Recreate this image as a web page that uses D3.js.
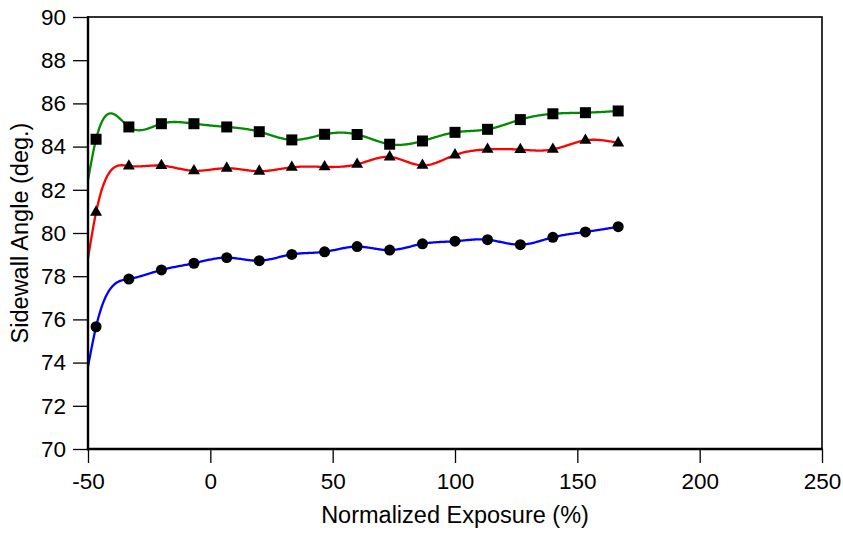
<!DOCTYPE html>
<html>
<head>
<meta charset="utf-8">
<script src="https://cdn.jsdelivr.net/npm/d3@7/dist/d3.min.js"></script>
<style>
  html, body { margin: 0; padding: 0; background: #fff; }
  svg { display: block; }
  text { font-family: "Liberation Sans", Arial, sans-serif; fill: #000; }
</style>
</head>
<body>
<script>
// ---- data ----
const exposure = [-46.7, -33.3, -20, -6.7, 6.7, 20, 33.3, 46.7, 60, 73.3, 86.7, 100, 113.3, 126.7, 140, 153.3, 166.7];
const squareSeries = [84.34, 84.91, 85.06, 85.06, 84.91, 84.69, 84.31, 84.57, 84.56, 84.11, 84.26, 84.66, 84.80, 85.25, 85.52, 85.57, 85.65];
const triangleSeries = [80.96, 83.10, 83.12, 82.88, 83.00, 82.86, 83.04, 83.06, 83.18, 83.52, 83.13, 83.61, 83.87, 83.86, 83.87, 84.29, 84.17];
const circleSeries = [75.66, 77.87, 78.29, 78.60, 78.86, 78.72, 79.01, 79.13, 79.37, 79.21, 79.50, 79.62, 79.69, 79.46, 79.80, 80.05, 80.29];
// fitted curve values at the left edge (x = -50), no marker there
const curveStartX = -50;
const curveStart = { square: 82.45, triangle: 78.83, circle: 73.81 };
const xTicks = [-50, 0, 50, 100, 150, 200, 250];
const yTicks = [70, 72, 74, 76, 78, 80, 82, 84, 86, 88, 90];

const W = 843, H = 533;
const margin = { left: 88, right: 21, top: 17, bottom: 84 };

const svg = d3.select("body").append("svg").attr("width", W).attr("height", H);

const x = d3.scaleLinear().domain([-50, 250]).range([margin.left, W - margin.right]);
const y = d3.scaleLinear().domain([70, 90]).range([H - margin.bottom, margin.top]);

// natural cubic spline y(x), sampled densely
function naturalSpline(xs, ys, stepsPerSeg) {
  const n = xs.length;
  const h = [];
  for (let i = 0; i < n - 1; i++) h.push(xs[i + 1] - xs[i]);
  const a = new Array(n).fill(0), b = new Array(n).fill(1), c = new Array(n).fill(0), r = new Array(n).fill(0);
  for (let i = 1; i < n - 1; i++) {
    a[i] = h[i - 1];
    b[i] = 2 * (h[i - 1] + h[i]);
    c[i] = h[i];
    r[i] = 6 * ((ys[i + 1] - ys[i]) / h[i] - (ys[i] - ys[i - 1]) / h[i - 1]);
  }
  // Thomas algorithm
  const cp = new Array(n).fill(0), rp = new Array(n).fill(0);
  cp[0] = c[0] / b[0]; rp[0] = r[0] / b[0];
  for (let i = 1; i < n; i++) {
    const m = b[i] - a[i] * cp[i - 1];
    cp[i] = c[i] / m;
    rp[i] = (r[i] - a[i] * rp[i - 1]) / m;
  }
  const M = new Array(n).fill(0);
  M[n - 1] = rp[n - 1];
  for (let i = n - 2; i >= 0; i--) M[i] = rp[i] - cp[i] * M[i + 1];
  const out = [];
  for (let i = 0; i < n - 1; i++) {
    const hi = h[i];
    for (let k = 0; k < stepsPerSeg; k++) {
      const t = xs[i] + hi * k / stepsPerSeg;
      const A = xs[i + 1] - t, B = t - xs[i];
      const v = M[i] * A * A * A / (6 * hi) + M[i + 1] * B * B * B / (6 * hi)
        + (ys[i] / hi - M[i] * hi / 6) * A + (ys[i + 1] / hi - M[i + 1] * hi / 6) * B;
      out.push([t, v]);
    }
  }
  out.push([xs[n - 1], ys[n - 1]]);
  return out;
}

const series = [
  { key: "square", values: squareSeries, color: "#008c00", shape: d3.symbolSquare, size: 121 },
  { key: "triangle", values: triangleSeries, color: "#ff0000", shape: d3.symbolTriangle, size: 62 },
  { key: "circle", values: circleSeries, color: "#0000ff", shape: d3.symbolCircle, size: 95 }
];

svg.append("defs").append("clipPath").attr("id", "plotclip")
  .append("rect")
  .attr("x", x(-50)).attr("y", y(90))
  .attr("width", x(250) - x(-50)).attr("height", y(70) - y(90));

const line = d3.line().x(d => x(d[0])).y(d => y(d[1]));

const gLines = svg.append("g").attr("clip-path", "url(#plotclip)");
series.forEach(s => {
  const xs = [curveStartX].concat(exposure);
  const ys = [curveStart[s.key]].concat(s.values);
  gLines.append("path")
    .attr("d", line(naturalSpline(xs, ys, 30)))
    .attr("fill", "none")
    .attr("stroke", s.color)
    .attr("stroke-width", 2.3);
});

series.forEach(s => {
  const sym = d3.symbol().type(s.shape).size(s.size);
  svg.append("g").selectAll("path")
    .data(exposure.map((e, i) => [e, s.values[i]]))
    .join("path")
    .attr("d", sym)
    .attr("transform", d => `translate(${x(d[0])},${y(d[1])})`)
    .attr("fill", "#000");
});

// axes
const xAxis = d3.axisBottom(x).tickValues(xTicks).tickSize(14).tickPadding(10).tickFormat(d => String(d));
const yAxis = d3.axisLeft(y).tickValues(yTicks).tickSize(15).tickPadding(7).tickFormat(d => String(d));

const gx = svg.append("g").attr("transform", `translate(0,${y(70)})`).call(xAxis);
const gy = svg.append("g").attr("transform", `translate(${x(-50)},0)`).call(yAxis);
[gx, gy].forEach(g => {
  g.select(".domain").remove();
  g.selectAll(".tick line").attr("stroke", "#000").attr("stroke-width", 1.3);
  g.selectAll(".tick text").style("font-size", "22.5px").style("font-family", "'Liberation Sans', Arial, sans-serif").attr("fill", "#000");
});

// frame
svg.append("rect")
  .attr("x", x(-50)).attr("y", y(90))
  .attr("width", x(250) - x(-50)).attr("height", y(70) - y(90))
  .attr("fill", "none").attr("stroke", "#000").attr("stroke-width", 1.6);
svg.append("line").attr("x1", x(-50)).attr("x2", x(-50)).attr("y1", y(90) - 0.8).attr("y2", y(70) + 1.2)
  .attr("stroke", "#000").attr("stroke-width", 2.4);
svg.append("line").attr("x1", x(-50) - 1.2).attr("x2", x(250) + 0.8).attr("y1", y(70)).attr("y2", y(70))
  .attr("stroke", "#000").attr("stroke-width", 2.4);

// titles
svg.append("text")
  .attr("x", (x(-50) + x(250)) / 2).attr("y", 523)
  .attr("text-anchor", "middle")
  .style("font-size", "23.5px")
  .text("Normalized Exposure (%)");
svg.append("text")
  .attr("transform", `translate(28,${(y(70) + y(90)) / 2}) rotate(-90)`)
  .attr("text-anchor", "middle")
  .style("font-size", "23.5px")
  .text("Sidewall Angle (deg.)");
</script>
</body>
</html>
